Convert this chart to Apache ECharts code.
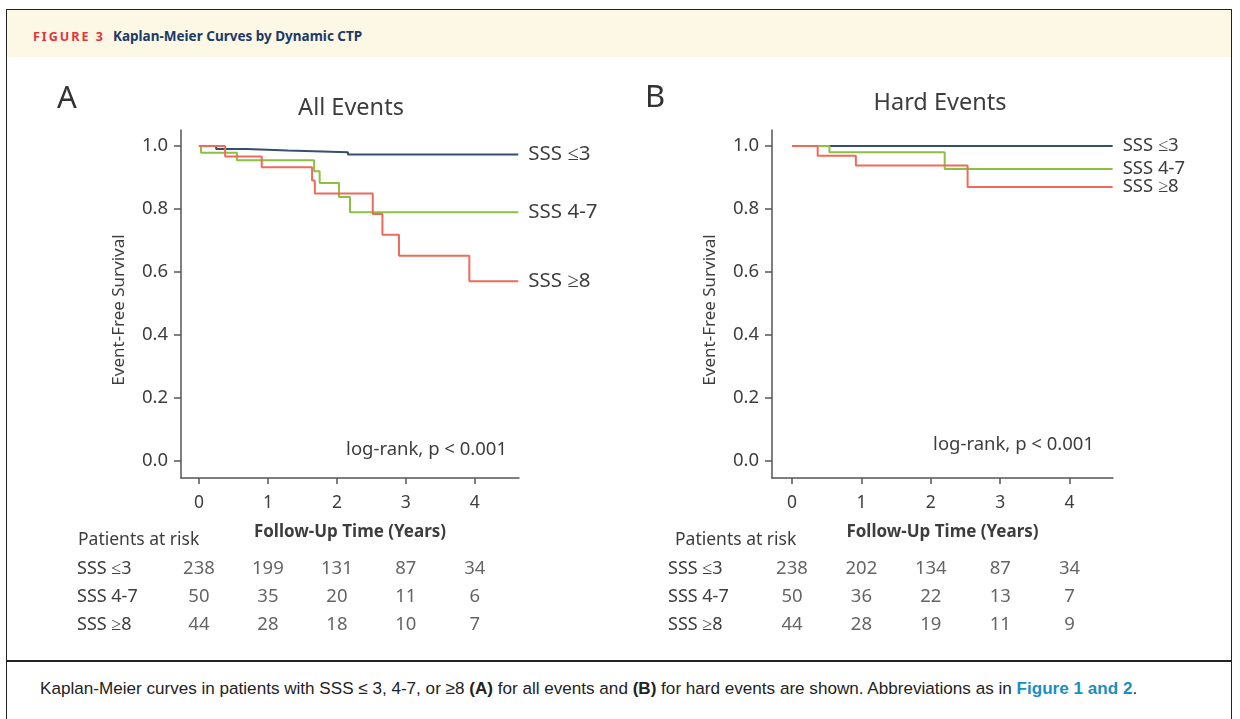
<!DOCTYPE html>
<html>
<head>
<meta charset="utf-8">
<script src="https://cdn.jsdelivr.net/npm/echarts@6/dist/echarts.min.js"></script>
<style>
  html, body { margin: 0; padding: 0; background: #fff; }
  body { width: 1240px; height: 719px; position: relative; overflow: hidden; font-family: 'Noto Sans', sans-serif; }
  .frame { position: absolute; left: 6px; top: 9px; width: 1226px; height: 720px; border: 1.5px solid #222; box-sizing: border-box; }
  .head { position: absolute; left: 7px; top: 10px; width: 1225px; height: 47px; background: #fdf7e6; }
  .head span { position: absolute; top: 17px; font-weight: bold; font-size: 13.5px; }
  .fig { left: 26px; color: #e1343c; letter-spacing: 2px; font-size: 12.5px !important; top: 18px !important; }
  .ttl { left: 106px; color: #1c3a66; }
  .sep { position: absolute; left: 7px; top: 660px; width: 1225px; height: 1.5px; background: #222; }
  .cap { position: absolute; left: 40px; top: 679px; font-family: 'Liberation Sans Narrow', 'Liberation Sans', sans-serif; font-size: 17.1px; color: #222; white-space: nowrap; }
  .cap a { color: #1a8fbf; font-weight: bold; text-decoration: none; }
  #chart { position: absolute; left: 0; top: 0; width: 1240px; height: 719px; }
</style>
</head>
<body>
<div class="head"><span class="fig">FIGURE 3</span><span class="ttl">Kaplan-Meier Curves by Dynamic CTP</span></div>
<div class="frame"></div>
<div class="sep"></div>
<div class="cap">Kaplan-Meier curves in patients with SSS &le; 3, 4-7, or &ge;8 <b>(A)</b> for all events and <b>(B)</b> for hard events are shown. Abbreviations as in <a>Figure 1 and 2</a>.</div>
<div id="chart"></div>
<script>
// groups
const groups = ['SSS ≤3', 'SSS 4-7', 'SSS ≥8']
const colors = ['#34506f', '#8dbf42', '#f06a5a']

// panel A: all events (time in years, survival)
const aLowT = [0, 0.25, 0.69, 1.29, 2.16, 4.63]
const aLowS = [1, 0.991, 0.986, 0.980, 0.973, 0.973]
const aMidT = [0, 0.03, 0.55, 1.67, 1.75, 2.03, 2.19, 4.63]
const aMidS = [1, 0.979, 0.955, 0.920, 0.883, 0.838, 0.790, 0.790]
const aHighT = [0, 0.38, 0.91, 1.64, 1.68, 2.52, 2.66, 2.90, 3.92, 4.63]
const aHighS = [1, 0.967, 0.933, 0.891, 0.849, 0.784, 0.718, 0.652, 0.571, 0.571]

// panel B: hard events
const bLowT = [0, 4.62]
const bLowS = [1, 1]
const bMidT = [0, 0.54, 2.20, 4.62]
const bMidS = [1, 0.980, 0.927, 0.927]
const bHighT = [0, 0.37, 0.92, 2.53, 4.62]
const bHighS = [1, 0.969, 0.938, 0.870, 0.870]

// patients at risk
const riskTimes = [0, 1, 2, 3, 4]
const riskA = [[238, 199, 131, 87, 34], [50, 35, 20, 11, 6], [44, 28, 18, 10, 7]]
const riskB = [[238, 202, 134, 87, 34], [50, 36, 22, 13, 7], [44, 28, 19, 11, 9]]

const yTicks = [0, 0.2, 0.4, 0.6, 0.8, 1.0]
const xTicks = [0, 1, 2, 3, 4]

const txt = '#3d3d3d'
const font = 'Noto Sans'
const zip = (t, s) => t.map((v, i) => [v, s[i]])

const chart = echarts.init(document.getElementById('chart'))

function axes(grid, xmin, xmax) {
  const tick = { color: '#555', width: 1.5 }
  return {
    x: {
      type: 'value', gridIndex: grid, min: xmin, max: xmax,
      axisLine: { onZero: false, lineStyle: tick }, splitLine: { show: false },
      axisTick: { customValues: xTicks, length: 6, lineStyle: tick },
      axisLabel: { customValues: xTicks, fontSize: 17.5, color: txt, margin: 16, fontFamily: font },
      name: 'Follow-Up Time (Years)', nameLocation: 'middle', nameGap: 46,
      nameTextStyle: { fontSize: 17, fontWeight: 'bold', color: txt, fontFamily: font },
    },
    y: {
      type: 'value', gridIndex: grid, min: -0.054, max: 1.051,
      axisLine: { show: true, onZero: false, lineStyle: tick }, splitLine: { show: false },
      axisTick: { show: true, customValues: yTicks, length: 7, lineStyle: tick },
      axisLabel: { customValues: yTicks, fontSize: 18.5, color: txt, margin: 13, fontFamily: font,
        formatter: v => v.toFixed(1) },
      name: 'Event-Free Survival', nameLocation: 'middle', nameGap: 53,
      nameTextStyle: { fontSize: 17, color: txt, fontFamily: font, padding: [0, 12, 0, 0] },
    },
  }
}

function riskAxes(grid, xmin, xmax) {
  return {
    x: { type: 'value', gridIndex: grid, min: xmin, max: xmax, show: false },
    y: {
      type: 'category', gridIndex: grid, data: groups, inverse: true,
      axisLine: { show: false }, axisTick: { show: false },
      axisLabel: { align: 'left', margin: 104, fontSize: 18, color: txt, fontFamily: font },
    },
  }
}

function kmSeries(axisIdx, data, i, size) {
  return {
    type: 'line', name: groups[i], step: 'end', xAxisIndex: axisIdx, yAxisIndex: axisIdx,
    data: data, showSymbol: false, symbol: 'none', animation: false,
    lineStyle: { color: colors[i], width: 2 },
    endLabel: { show: true, formatter: groups[i], distance: 10, fontSize: size, color: txt, fontFamily: font },
  }
}

function riskSeries(axisIdx, counts) {
  const data = []
  counts.forEach((row, r) => row.forEach((n, c) => data.push([riskTimes[c], groups[r], n])))
  return {
    type: 'scatter', xAxisIndex: axisIdx, yAxisIndex: axisIdx, symbolSize: 0, animation: false,
    data: data,
    label: { show: true, position: 'inside', formatter: p => p.value[2], fontSize: 18.5, color: txt, fontFamily: font },
  }
}

const axA = axes(0, -0.26, 4.64)
const axB = axes(1, -0.288, 4.625)
const rkA = riskAxes(2, -0.26, 4.64)
const rkB = riskAxes(3, -0.288, 4.625)

function label(text, x, y, size, opts) {
  return { type: 'text', x: x, y: y, style: Object.assign({ text: text, fontSize: size, fill: txt,
    fontFamily: font, align: 'center', verticalAlign: 'middle' }, opts || {}) }
}

chart.setOption({
  animation: false,
  grid: [
    { left: 181, top: 130, width: 338, height: 348 },
    { left: 772, top: 130, width: 341, height: 348 },
    { left: 181, top: 555, width: 338, height: 84 },
    { left: 772, top: 555, width: 341, height: 84 },
  ],
  xAxis: [axA.x, axB.x, rkA.x, rkB.x],
  yAxis: [axA.y, axB.y, rkA.y, rkB.y],
  series: [
    kmSeries(0, zip(aLowT, aLowS), 0, 20.5),
    kmSeries(0, zip(aMidT, aMidS), 1, 20.5),
    kmSeries(0, zip(aHighT, aHighS), 2, 20.5),
    kmSeries(1, zip(bLowT, bLowS), 0, 18.5),
    kmSeries(1, zip(bMidT, bMidS), 1, 18.5),
    kmSeries(1, zip(bHighT, bHighS), 2, 18.5),
    riskSeries(2, riskA),
    riskSeries(3, riskB),
  ],
  graphic: [
    label('A', 67, 99, 31, { fill: '#333' }),
    label('B', 655, 98, 31, { fill: '#333' }),
    label('All Events', 351, 108, 23.5),
    label('Hard Events', 940, 103, 23.5),
    label('log-rank, p < 0.001', 507, 450, 18.5, { align: 'right' }),
    label('log-rank, p < 0.001', 1094, 445, 18.5, { align: 'right' }),
    label('Patients at risk', 78, 540, 17.5, { align: 'left' }),
    label('Patients at risk', 675, 540, 17.5, { align: 'left' }),
  ],
})
</script>
</body>
</html>
